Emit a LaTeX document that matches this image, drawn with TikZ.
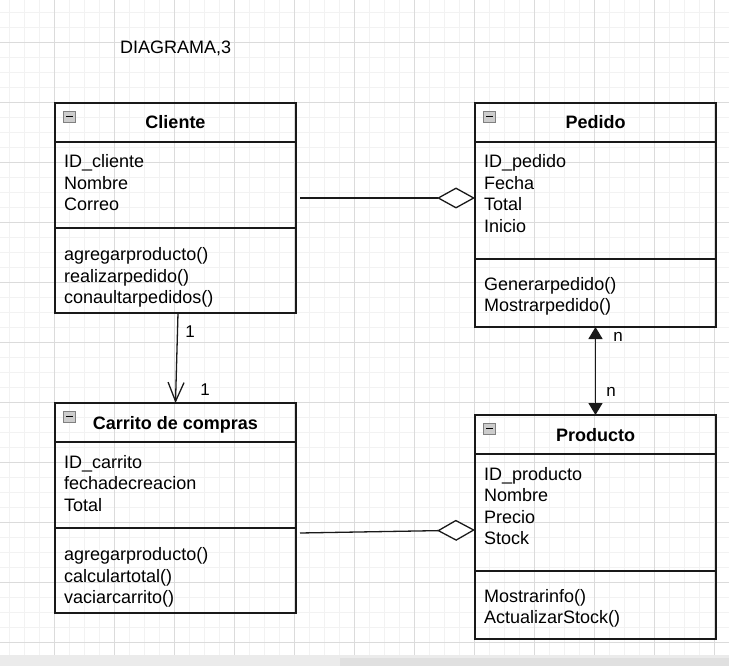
\documentclass[tikz,border=0pt]{standalone}
\usepackage{fontspec}
\setmainfont{Liberation Sans}
\usetikzlibrary{arrows.meta}

\tikzset{
  umlline/.style={line width=1.3pt, draw=black!90},
  hdr/.style={umlline, minimum width=241pt, minimum height=39pt, inner sep=0pt, outer sep=0pt,
    text height=13pt, text depth=0pt, font=\fontsize{18pt}{21.5pt}\selectfont\bfseries},
  sect/.style={umlline, minimum width=241pt, anchor=north, inner sep=0pt, outer sep=0pt},
  members/.style={anchor=base west, inner sep=0pt, text width=220pt, align=left,
    font=\fontsize{18pt}{21.5pt}\selectfont},
  mult/.style={inner sep=0pt, font=\fontsize{17pt}{20pt}\selectfont},
  minusbox/.style={draw=black!50, fill=black!20, line width=0.9pt},
  gridminor/.style={draw=black!5, line width=0.8pt},
  gridmajor/.style={draw=black!14, line width=0.8pt},
}

\begin{document}
\begin{tikzpicture}[x=1pt, y=-1pt]
\useasboundingbox (0,0) rectangle (729,666);
\fill[white] (0,0) rectangle (729,666);

% grid of the canvas
\foreach \k in {0,...,47} \draw[gridminor] (9.3+15*\k,0) -- (9.3+15*\k,655);
\foreach \k in {0,...,42} \draw[gridminor] (0,12.3+15*\k) -- (729,12.3+15*\k);
\foreach \k in {0,...,11} \draw[gridmajor] (54.3+60*\k,0) -- (54.3+60*\k,655);
\foreach \k in {0,...,10} \draw[gridmajor] (0,42.3+60*\k) -- (729,42.3+60*\k);

% scroll bar
\fill[black!8] (0,655) rectangle (729,666);
\fill[black!12] (340,658) rectangle (729,666);

\node[anchor=base west, inner sep=0pt, font=\fontsize{18pt}{21.5pt}\selectfont] (title) at (120,53.3) {DIAGRAMA,3};

% Cliente
\node[hdr] (cliH) at (175.5,122.5) {Cliente};
\node[sect, minimum height=86pt] (cliA) at (cliH.south) {};
\node[sect, minimum height=85pt] (cliM) at (cliA.south) {};
\node[members] (cliAt) at ([shift={(9pt,-26pt)}]cliA.north west) {ID\_cliente\\Nombre\\Correo};
\node[members] (cliMt) at ([shift={(9pt,-32.5pt)}]cliM.north west) {agregarproducto()\\realizarpedido()\\conaultarpedidos()};

% Pedido
\node[hdr] (pedH) at (595.5,122.5) {Pedido};
\node[sect, minimum height=117pt] (pedA) at (pedH.south) {};
\node[sect, minimum height=68pt] (pedM) at (pedA.south) {};
\node[members] (pedAt) at ([shift={(9pt,-26pt)}]pedA.north west) {ID\_pedido\\Fecha\\Total\\Inicio};
\node[members] (pedMt) at ([shift={(9pt,-31pt)}]pedM.north west) {Generarpedido()\\Mostrarpedido()};

% Carrito de compras
\node[hdr] (carH) at (175.5,422.5) {Carrito de compras};
\node[sect, minimum height=86pt] (carA) at (carH.south) {};
\node[sect, minimum height=85pt] (carM) at (carA.south) {};
\node[members] (carAt) at ([shift={(9pt,-26pt)}]carA.north west) {ID\_carrito\\fechadecreacion\\Total};
\node[members] (carMt) at ([shift={(9pt,-32.5pt)}]carM.north west) {agregarproducto()\\calculartotal()\\vaciarcarrito()};

% Producto
\node[hdr] (prodH) at (595.5,434.5) {Producto};
\node[sect, minimum height=117pt] (prodA) at (prodH.south) {};
\node[sect, minimum height=68pt] (prodM) at (prodA.south) {};
\node[members] (prodAt) at ([shift={(9pt,-26pt)}]prodA.north west) {ID\_producto\\Nombre\\Precio\\Stock};
\node[members] (prodMt) at ([shift={(9pt,-31pt)}]prodM.north west) {Mostrarinfo()\\ActualizarStock()};

% collapse icons
\foreach \h in {cliH,pedH,carH,prodH} {
  \draw[minusbox] ([shift={(8.5pt,-8pt)}]\h.north west) rectangle ++(12pt,-11pt);
  \draw[line width=1.4pt] ([shift={(11pt,-13.5pt)}]\h.north west) -- ++(7pt,0pt);
}

% connectors
\draw[umlline, -{Diamond[length=38pt, width=21pt, fill=white]}] ([shift={(4pt,-13pt)}]cliA.east) -- ([yshift=2.5pt]pedA.west);
\draw[umlline, -{Diamond[length=38pt, width=21pt, fill=white]}] ([shift={(4pt,-5pt)}]carA.south east) -- ([yshift=-17.5pt]prodA.west);
\draw[umlline, -{Straight Barb[length=19pt, width=16pt]}] ([xshift=2.5pt]cliM.south) -- (carH.north);
\draw[umlline, {Triangle[length=12pt, width=14pt]}-{Triangle[length=12pt, width=14pt]}] (pedM.south) -- (prodH.north);

\node[mult] (m1) at (190,332) {1};
\node[mult] (m2) at (205,389.5) {1};
\node[mult] (m3) at (618,336.5) {n};
\node[mult] (m4) at (611,392) {n};

\end{tikzpicture}
\end{document}
